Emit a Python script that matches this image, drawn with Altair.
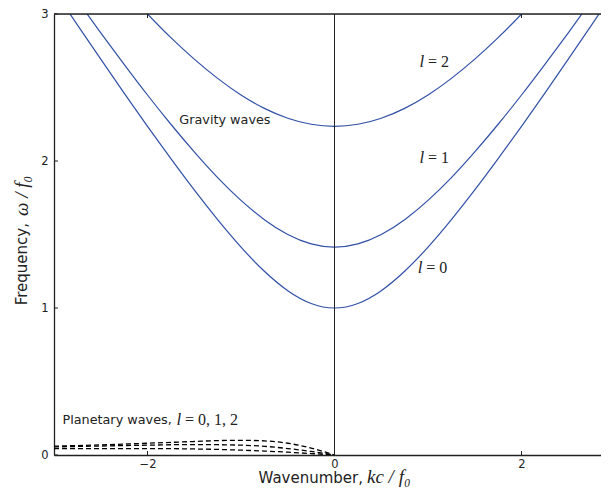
import altair as alt
import pandas as pd

# ---- data ----
k_grav = [-3.25, -3.0, -2.75, -2.5, -2.25, -2.0, -1.75, -1.5, -1.25, -1.0, -0.75, -0.5, -0.25, 0.0,
          0.25, 0.5, 0.75, 1.0, 1.25, 1.5, 1.75, 2.0, 2.25, 2.5, 2.75, 3.0, 3.25]
w_l0 = [3.400, 3.162, 2.926, 2.693, 2.462, 2.236, 2.016, 1.803, 1.601, 1.414, 1.250, 1.118, 1.031, 1.000,
        1.031, 1.118, 1.250, 1.414, 1.601, 1.803, 2.016, 2.236, 2.462, 2.693, 2.926, 3.162, 3.400]
w_l1 = [3.544, 3.317, 3.092, 2.872, 2.658, 2.449, 2.250, 2.062, 1.887, 1.732, 1.601, 1.500, 1.436, 1.414,
        1.436, 1.500, 1.601, 1.732, 1.887, 2.062, 2.250, 2.449, 2.658, 2.872, 3.092, 3.317, 3.544]
w_l2 = [3.945, 3.742, 3.544, 3.354, 3.172, 3.000, 2.839, 2.693, 2.562, 2.449, 2.358, 2.291, 2.250, 2.236,
        2.250, 2.291, 2.358, 2.449, 2.562, 2.693, 2.839, 3.000, 3.172, 3.354, 3.544, 3.742, 3.945]

k_plan = [-3.0, -2.5, -2.0, -1.5, -1.25, -1.0, -0.75, -0.5, -0.25, 0.0]
p_l0 = [0.060, 0.069, 0.080, 0.092, 0.098, 0.100, 0.096, 0.080, 0.047, 0.0]
p_l1 = [0.055, 0.061, 0.067, 0.071, 0.070, 0.067, 0.059, 0.044, 0.024, 0.0]
p_l2 = [0.043, 0.044, 0.044, 0.041, 0.038, 0.033, 0.027, 0.019, 0.010, 0.0]

x_ticks = [-2, 0, 2]
y_ticks = [0, 1, 2, 3]

W, H = 547, 441
BLUE = "#3150a6"
INK = "#222222"

grav = pd.concat([
    pd.DataFrame({"k": k_grav, "w": w_l0, "l": "0"}),
    pd.DataFrame({"k": k_grav, "w": w_l1, "l": "1"}),
    pd.DataFrame({"k": k_grav, "w": w_l2, "l": "2"}),
])
plan = pd.concat([
    pd.DataFrame({"k": k_plan, "w": p_l0, "l": "0"}),
    pd.DataFrame({"k": k_plan, "w": p_l1, "l": "1"}),
    pd.DataFrame({"k": k_plan, "w": p_l2, "l": "2"}),
])

xs = alt.Scale(domain=[-3, 2.85], nice=False, zero=False)
ys = alt.Scale(domain=[0, 3], nice=False, zero=False)

xax = alt.Axis(values=x_ticks, format="d", title=None, grid=False, tickSize=0, labelPadding=3,
               labelFont="DejaVu Sans", labelFontSize=11.5, labelColor=INK,
               domainColor=INK, domainWidth=1.3)
yax = alt.Axis(values=y_ticks, format="d", title=None, grid=False, tickSize=0, labelPadding=6,
               labelFont="DejaVu Sans", labelFontSize=11.5, labelColor=INK,
               domainColor=INK, domainWidth=1.3)

gravity = alt.Chart(grav).mark_line(color=BLUE, strokeWidth=1.2, clip=True,
                                    interpolate="natural").encode(
    x=alt.X("k:Q", scale=xs, axis=xax),
    y=alt.Y("w:Q", scale=ys, axis=yax),
    detail="l:N",
)
planetary = alt.Chart(plan).mark_line(color="black", strokeWidth=1.3, strokeDash=[5, 3],
                                      clip=True, interpolate="monotone").encode(
    x=alt.X("k:Q", scale=xs), y=alt.Y("w:Q", scale=ys), detail="l:N")

vline = alt.Chart(pd.DataFrame({"k": [0]})).mark_rule(color=INK, strokeWidth=1).encode(
    x=alt.X("k:Q", scale=xs))

top_line = alt.Chart(pd.DataFrame({"a": [0]})).mark_rule(color=INK, strokeWidth=1.5).encode(
    x=alt.value(0), x2=alt.value(W), y=alt.value(0))

tk = pd.DataFrame({"k": x_ticks})
bot_ticks = alt.Chart(tk).mark_rule(color=INK, strokeWidth=1).encode(
    x=alt.X("k:Q", scale=xs), y=alt.value(H), y2=alt.value(H - 4))
top_ticks = alt.Chart(tk).mark_rule(color=INK, strokeWidth=1).encode(
    x=alt.X("k:Q", scale=xs), y=alt.value(0), y2=alt.value(4))
left_ticks = alt.Chart(pd.DataFrame({"w": y_ticks})).mark_rule(color=INK, strokeWidth=1).encode(
    y=alt.Y("w:Q", scale=ys), x=alt.value(0), x2=alt.value(4))

# annotations (data coordinates)
sans_notes = pd.DataFrame({
    "k": [-1.66, -2.91],
    "w": [2.28, 0.236],
    "t": ["Gravity waves", "Planetary waves,"],
})
l_italic = pd.DataFrame({"k": [0.91, 0.91, 0.89, -1.69], "w": [2.676, 2.02, 1.27, 0.236],
                         "t": ["l", "l", "l", "l"]})
l_rest = pd.DataFrame({"k": [1.0, 1.0, 0.98, -1.60], "w": [2.676, 2.02, 1.27, 0.236],
                       "t": ["= 2", "= 1", "= 0", "= 0, 1, 2"]})

sans_txt = alt.Chart(sans_notes).mark_text(align="left", baseline="middle", font="DejaVu Sans",
                                           fontSize=12.8, color=INK).encode(
    x=alt.X("k:Q", scale=xs), y=alt.Y("w:Q", scale=ys), text="t:N")
l_txt = alt.Chart(l_italic).mark_text(align="left", baseline="middle", font="Liberation Serif",
                                      fontStyle="italic", fontSize=17, color=INK).encode(
    x=alt.X("k:Q", scale=xs), y=alt.Y("w:Q", scale=ys), text="t:N")
rest_txt = alt.Chart(l_rest).mark_text(align="left", baseline="middle", font="Liberation Serif",
                                       fontSize=16, color=INK).encode(
    x=alt.X("k:Q", scale=xs), y=alt.Y("w:Q", scale=ys), text="t:N")

# axis titles (pixel positions outside the plot area)
one = pd.DataFrame({"a": [0]})
ytitle_a = alt.Chart(one).mark_text(angle=270, align="right", baseline="middle",
                                    font="DejaVu Sans", fontSize=15, color=INK).encode(
    x=alt.value(-32), y=alt.value(209), text=alt.value("Frequency,"))
ytitle_b = alt.Chart(one).mark_text(angle=270, align="left", baseline="middle",
                                    font="Liberation Serif", fontStyle="italic", fontSize=19,
                                    color=INK).encode(
    x=alt.value(-32), y=alt.value(202), text=alt.value("ω / f₀"))
xtitle_a = alt.Chart(one).mark_text(align="right", baseline="alphabetic",
                                    font="DejaVu Sans", fontSize=15, color=INK).encode(
    x=alt.value(309), y=alt.value(H + 28), text=alt.value("Wavenumber,"))
xtitle_b = alt.Chart(one).mark_text(align="left", baseline="alphabetic",
                                    font="Liberation Serif", fontStyle="italic", fontSize=19,
                                    color=INK).encode(
    x=alt.value(313), y=alt.value(H + 28), text=alt.value("kc / f₀"))

chart = alt.layer(
    gravity, planetary, vline, top_line, bot_ticks, top_ticks, left_ticks,
    sans_txt, l_txt, rest_txt, ytitle_a, ytitle_b, xtitle_a, xtitle_b,
).properties(
    width=W, height=H,
    autosize=alt.AutoSizeParams(type="none"),
    padding={"left": 46, "top": 6, "right": 0, "bottom": 34},
).configure_view(stroke=None).configure(background="white")

chart.save("out.html", embed_options={"renderer": "svg", "actions": False})
